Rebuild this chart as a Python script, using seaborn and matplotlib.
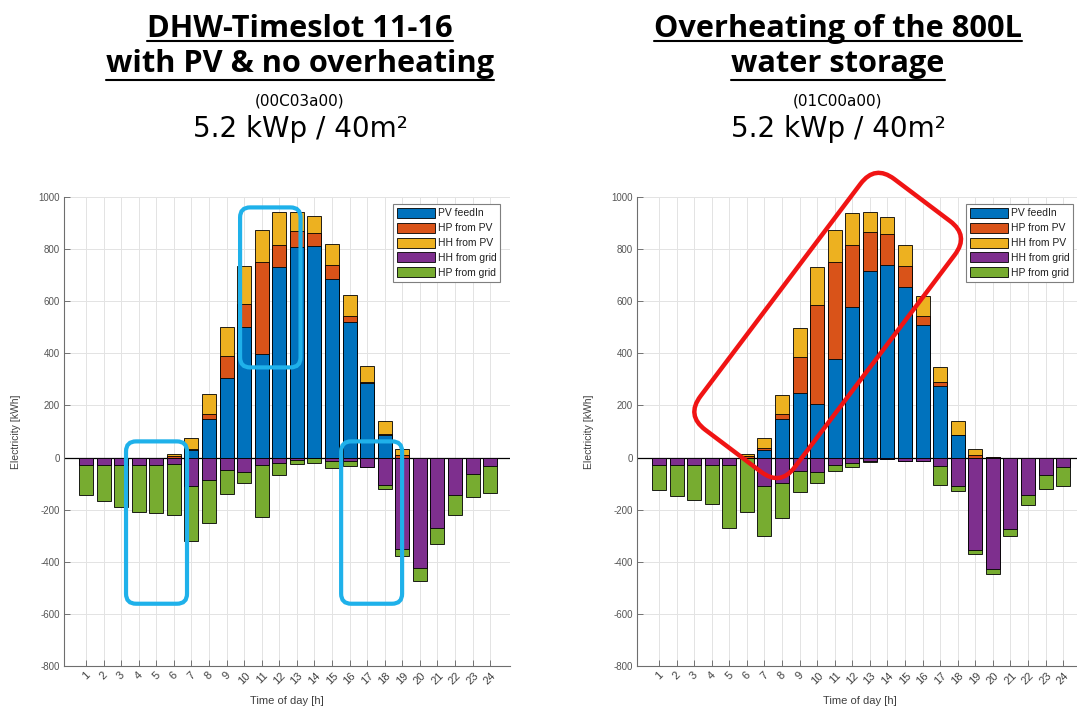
import numpy as np
import pandas as pd
import matplotlib
matplotlib.use("Agg")
import matplotlib.pyplot as plt
import seaborn as sns
from matplotlib.patches import Patch, FancyBboxPatch
from matplotlib.lines import Line2D
from matplotlib.transforms import Affine2D, IdentityTransform
from matplotlib.textpath import TextPath
from matplotlib.font_manager import FontProperties, findfont

# ---------------- data ----------------
hours = list(range(1, 25))
series_names = ["PV feedIn", "HP from PV", "HH from PV", "HH from grid", "HP from grid"]
series_colors = ["#0072BD", "#D95319", "#EDB120", "#7E2F8E", "#77AC30"]

# left panel: DHW-Timeslot 11-16 with PV & no overheating (00C03a00)
left_pv_feedin = [0, 0, 0, 0, 0, 0, 28, 147, 305, 500, 397, 730, 810, 813, 685, 521, 285, 87, 0, 0, 0, 0, 0, 0]
left_hp_from_pv = [0, 0, 0, 0, 0, 5, 4, 19, 83, 90, 353, 87, 58, 49, 54, 23, 5, 3, 8, 0, 0, 0, 0, 0]
left_hh_from_pv = [0, 0, 0, 0, 0, 10, 42, 79, 113, 144, 125, 124, 73, 64, 80, 81, 60, 52, 24, 0, 0, 0, 0, 0]
left_hh_from_grid = [-28, -28, -28, -28, -28, -23, -109, -86, -49, -54, -28, -19, -9, -3, -13, -13, -36, -106, -350, -423, -269, -144, -64, -32]
left_hp_from_grid = [-117, -139, -162, -180, -186, -198, -210, -167, -92, -42, -199, -49, -17, -16, -29, -19, 0, -16, -28, -51, -62, -77, -87, -103]

# right panel: Overheating of the 800L water storage (01C00a00)
right_pv_feedin = [0, 0, 0, 0, 0, 0, 29, 147, 247, 206, 378, 577, 716, 740, 653, 510, 273, 85, 0, 0, 0, 0, 0, 0]
right_hp_from_pv = [0, 0, 0, 0, 0, 5, 7, 19, 138, 380, 371, 240, 148, 119, 83, 32, 16, 3, 8, 2, 0, 0, 0, 0]
right_hh_from_pv = [0, 0, 0, 0, 0, 10, 38, 75, 114, 144, 123, 121, 77, 63, 81, 79, 58, 53, 24, 2, 0, 0, 0, 0]
right_hh_from_grid = [-28, -28, -28, -28, -28, -3, -109, -96, -51, -55, -28, -22, -13, -6, -15, -13, -32, -109, -353, -426, -273, -145, -67, -35]
right_hp_from_grid = [-96, -119, -135, -151, -241, -206, -192, -137, -80, -41, -23, -16, -4, -1, 0, 0, -74, -19, -16, -20, -28, -37, -55, -74]

yticks = list(range(-800, 1001, 200))

left_title = ["DHW-Timeslot 11-16", "with PV & no overheating"]
right_title = ["Overheating of the 800L", "water storage"]
left_code = "(00C03a00)"
right_code = "(01C00a00)"
subtitle = "5.2 kWp / 40m\u00b2"

# ---------------- style ----------------
sns.set_theme(style="whitegrid")
plt.rcParams["font.family"] = ["Liberation Sans", "DejaVu Sans"]
plt.rcParams["axes.axisbelow"] = True

W, H = 1077, 715
fig = plt.figure(figsize=(W / 100, H / 100), dpi=100)
fig.patch.set_facecolor("white")


def px_axes(l, t, r, b):
    return [l / W, 1 - b / H, (r - l) / W, (b - t) / H]


ax_l = fig.add_axes(px_axes(64, 197, 510, 666))
ax_r = fig.add_axes(px_axes(637, 197, 1083, 666))

TICK_GRAY = "#555555"


def draw_panel(ax, pv, hp, hh, hhg, hpg):
    pv, hp, hh, hhg, hpg = map(np.asarray, (pv, hp, hh, hhg, hpg))
    layers = [
        (pv + hp + hh, series_colors[2]),
        (pv + hp, series_colors[1]),
        (pv, series_colors[0]),
        (hhg + hpg, series_colors[4]),
        (hhg, series_colors[3]),
    ]
    ax.axhline(0, color="black", linewidth=0.9, zorder=1)
    for vals, c in layers:
        df = pd.DataFrame({"hour": hours, "value": vals})
        sns.barplot(data=df, x="hour", y="value", native_scale=True, color=c,
                    saturation=1, edgecolor="black", linewidth=0.6, width=0.8,
                    errorbar=None, ax=ax, zorder=2)
    ax.set_xlim(-0.25, 25.13)
    ax.set_ylim(-800, 1000)
    ax.set_xticks(hours)
    ax.set_xticklabels([str(h) for h in hours], rotation=45, ha="center",
                       fontsize=8, color="#404040")
    ax.set_yticks(yticks)
    ax.set_yticklabels([str(v) for v in yticks], fontsize=7, color=TICK_GRAY)
    ax.tick_params(axis="both", direction="in", length=4, width=0.6,
                   color="#606060", pad=3, left=True, bottom=True)
    ax.grid(True, color="#E3E3E3", linewidth=0.7)
    for side in ["top", "right"]:
        ax.spines[side].set_visible(False)
    for side in ["left", "bottom"]:
        ax.spines[side].set_visible(True)
        ax.spines[side].set_color("#6E6E6E")
        ax.spines[side].set_linewidth(0.8)
    ax.set_facecolor("white")
    ax.set_xlabel("Time of day [h]", fontsize=8, color="#404040")
    ax.set_ylabel("Electricity [kWh]", fontsize=7.5, color="#404040")
    ax.xaxis.set_label_coords(0.5, -0.064)
    ax.yaxis.set_label_coords(-0.097, 0.5)
    handles = [Patch(facecolor=c, edgecolor="black", linewidth=0.6) for c in series_colors]
    leg = ax.legend(handles, series_names, loc="upper right", bbox_to_anchor=(0.978, 0.985),
                    borderaxespad=0, fontsize=7.5, handlelength=3.7, handleheight=1.1,
                    handletextpad=0.25, labelspacing=0.42, borderpad=0.35,
                    fancybox=False, framealpha=1, edgecolor="#7F7F7F")
    leg.get_frame().set_linewidth(0.8)
    for t in leg.get_texts():
        t.set_color("#202020")


draw_panel(ax_l, left_pv_feedin, left_hp_from_pv, left_hh_from_pv, left_hh_from_grid, left_hp_from_grid)
draw_panel(ax_r, right_pv_feedin, right_hp_from_pv, right_hh_from_pv, right_hh_from_grid, right_hp_from_grid)

# ---------------- titles ----------------
renderer = fig.canvas.get_renderer()
CANDIDATES = ["Open Sans", "Noto Sans", "Lato", "Roboto", "Inter", "Liberation Sans", "DejaVu Sans"]


def available(fam):
    try:
        findfont(FontProperties(family=fam), fallback_to_default=False)
        return True
    except Exception:
        return False


def text_width(s, size, weight, fam):
    t = fig.text(0, 0, s, fontsize=size, fontweight=weight, family=[fam, "DejaVu Sans"])
    w = t.get_window_extent(renderer).width
    t.remove()
    return w


def cap_px(size, weight, fam):
    tp = TextPath((0, 0), "H", size=size, prop=FontProperties(family=fam, weight=weight))
    return tp.get_extents().height * 100 / 72


def fit_font(lines, target_widths, target_cap, weight):
    """pick the font whose width/cap-height proportion is closest to the reference,
    then choose a size between the width match and the height match"""
    best = None
    for fam in CANDIDATES:
        if not available(fam):
            continue
        w = sum(text_width(s, 20, weight, fam) for s in lines)
        c = cap_px(20, weight, fam)
        s_w = 20 * sum(target_widths) / w
        s_h = 20 * target_cap / c
        err = abs(np.log(s_w / s_h))
        if best is None or err < best[0]:
            best = (err, fam, np.sqrt(s_w * s_h))
    return best[1], best[2]


title_fam, title_size = fit_font(left_title + right_title, [310, 389, 363, 210], 22, "bold")
sub_fam, sub_size = fit_font([subtitle], [228], 19, "normal")
code_size = 10 * 90 / text_width(left_code, 10, "normal", sub_fam)


def put(xc, ybase, s, size, weight, fam, underline_y=None):
    t = fig.text(xc / W, 1 - ybase / H, s, fontsize=size, fontweight=weight,
                 family=[fam, "DejaVu Sans"], ha="center", va="baseline", color="black")
    if underline_y is not None:
        bb = t.get_window_extent(renderer)
        yy = H - underline_y
        fig.add_artist(Line2D([bb.x0, bb.x1], [yy, yy], transform=IdentityTransform(),
                              color="black", linewidth=1.5))
    return t


for xc, lines, code in [(300, left_title, left_code), (838, right_title, right_code)]:
    put(xc, 36.7, lines[0], title_size, "bold", title_fam, underline_y=41)
    put(xc, 71.7, lines[1], title_size, "bold", title_fam, underline_y=80)
    put(xc, 106, code, code_size, "normal", sub_fam)
    put(xc, 137, subtitle, sub_size, "normal", sub_fam)

# ---------------- annotation boxes ----------------
CYAN = "#1FB1EA"


def rounded_box(ax, x0, x1, y0, y1, color, lw, radius):
    p0 = ax.transData.transform((x0, y0))
    p1 = ax.transData.transform((x1, y1))
    xmin, ymin = min(p0[0], p1[0]), min(p0[1], p1[1])
    w, h = abs(p1[0] - p0[0]), abs(p1[1] - p0[1])
    patch = FancyBboxPatch((xmin, ymin), w, h, boxstyle=f"round,pad=0,rounding_size={radius}",
                           transform=IdentityTransform(), fill=False, edgecolor=color,
                           linewidth=lw, zorder=10)
    fig.add_artist(patch)


rounded_box(ax_l, 9.77, 13.21, 960, 346, CYAN, 3.0, 10)
rounded_box(ax_l, 3.28, 6.75, 62, -561, CYAN, 3.0, 10)
rounded_box(ax_l, 15.52, 18.99, 62, -561, CYAN, 3.0, 10)

# rotated red rounded rectangle on the right panel
cx, cy = ax_r.transData.transform((10.6, 507))
Lr, Sr = 314, 118
red = FancyBboxPatch((-Lr / 2, -Sr / 2), Lr, Sr, boxstyle="round,pad=0,rounding_size=24",
                     fill=False, edgecolor="#F01414", linewidth=3.2, zorder=10,
                     transform=Affine2D().rotate_deg(53.0).translate(cx, cy))
fig.add_artist(red)

fig.savefig("out.png", dpi=100, facecolor="white")
